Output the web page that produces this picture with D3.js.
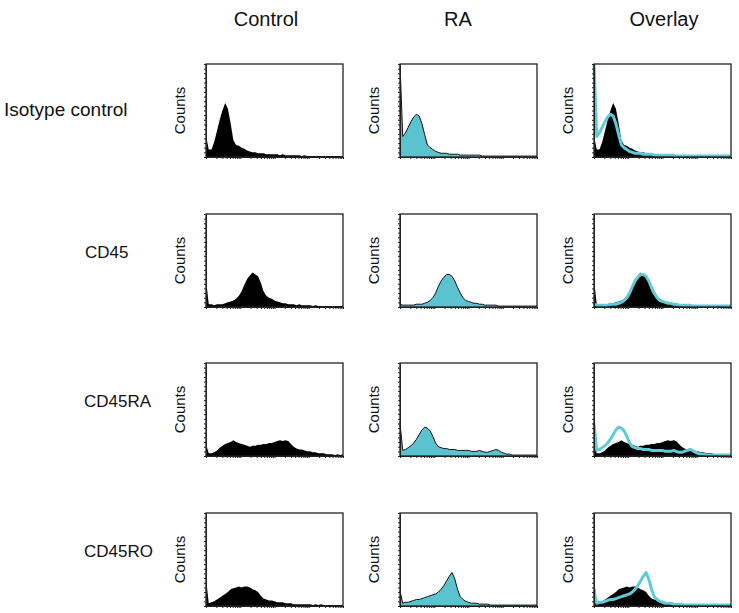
<!DOCTYPE html>
<html>
<head>
<meta charset="utf-8">
<script src="https://cdn.jsdelivr.net/npm/d3@7"></script>
<style>
  body { margin: 0; background: #fff; }
  text { font-family: Arial, "Liberation Sans", sans-serif; fill: #111; }
</style>
</head>
<body>
<div class="figure-container"></div>
<script>
// . . . data (counts as % of panel height, one value per channel bin)

const rowNames = ['Isotype control', 'CD45', 'CD45RA', 'CD45RO'];
const colNames = ['Control', 'RA', 'Overlay'];
const channels = d3.range(0, 101, 2);

const isoControl = [23,8,8,16,28,40,50,58,52,36, 18,13,12,10,9,7,6,5,5,4, 4,4,3,3,3,3,3,2,3,2, 2,2,2,2,2,1,2,1,1,1, 1,1,1,1,1,1,1,1,1,1, 1];
const isoRA = [100,22,26,32,38,43,46,44,36,24, 13,10,8,6,5,4,4,4,3,3, 3,3,2,2,2,2,2,2,2,2, 1,1,1,1,1,1,1,1,1,1, 1,1,1,1,1,1,1,1,1,1, 1];
const cd45Control = [30,3,3,2,3,3,3,4,5,6, 7,9,12,17,24,30,34,37,35,33, 26,17,12,10,9,7,6,5,4,4, 3,3,3,2,3,2,2,2,2,1, 2,1,1,1,1,1,1,1,1,1, 1];
const cd45RA = [3,2,2,2,2,2,3,3,3,4, 5,7,10,15,22,28,32,35,35,33, 28,21,15,10,7,6,5,4,4,3, 3,2,2,2,2,2,1,1,1,1, 1,1,1,1,1,1,1,1,1,1, 1];
const cd45raControl = [13,3,3,4,6,9,11,13,14,15, 17,15,14,13,12,11,10,11,11,12, 12,13,13,14,14,15,16,17,16,17, 16,13,10,8,7,7,6,5,5,4, 4,3,3,3,2,2,2,1,2,1, 2];
const cd45raRA = [35,6,7,9,11,14,18,23,28,31, 30,27,21,14,10,9,8,8,7,7, 7,6,6,6,6,6,5,5,5,6, 5,4,4,5,6,7,6,4,3,2, 2,1,1,1,1,1,1,1,1,1, 1];
const cd45roControl = [30,3,4,5,7,9,11,13,15,18, 19,20,21,20,21,21,20,18,17,15, 11,8,7,6,6,5,4,4,4,3, 3,3,2,2,2,2,2,2,2,1, 2,1,2,1,1,1,1,1,1,1, 1];
const cd45roRA = [16,3,4,4,5,6,7,7,8,9, 10,11,12,13,15,18,22,27,32,36, 29,18,10,7,5,4,3,3,3,2, 2,2,2,1,1,1,1,1,1,1, 1,1,1,1,1,1,1,1,1,1, 1];

const controlSeries = [isoControl, cd45Control, cd45raControl, cd45roControl];
const raSeries = [isoRA, cd45RA, cd45raRA, cd45roRA];

// . . . layout

const width = 739;
const height = 613;
const panelW = 137;
const panelH = 93;
const colLeft = [206, 400, 594];
const rowTop = [64, 214, 363, 513];
const headerX = [266, 458, 664];
const labelX = [4, 85, 84, 84];
const labelDy = [5, -3, -3, -3];
const labelSize = [19, 17, 17, 17];

const cyanFill = '#5bc3d0';
const cyanLine = '#5fcbd8';

const svg = d3.select('.figure-container')
    .append('svg')
    .attr('width', width)
    .attr('height', height);

// scales
const x = d3.scaleLinear().domain([0, 100]).range([0, panelW]);
const xLog = d3.scaleLog().domain([1, 1e4]).range([0, panelW]);
const y = d3.scaleLinear().domain([0, 100]).range([panelH, 0]);

const area = d3.area()
    .x((d, i) => x(channels[i]))
    .y0(panelH)
    .y1(d => y(d));

const line = d3.line()
    .x((d, i) => x(channels[i]))
    .y(d => y(d));

// column headers
svg.selectAll('.col-title')
    .data(colNames)
    .enter().append('text')
    .attr('class', 'col-title')
    .attr('x', (d, i) => headerX[i])
    .attr('y', 26)
    .attr('text-anchor', 'middle')
    .style('font-size', '20px')
    .text(d => d);

// row labels
svg.selectAll('.row-title')
    .data(rowNames)
    .enter().append('text')
    .attr('class', 'row-title')
    .attr('x', (d, i) => labelX[i])
    .attr('y', (d, i) => rowTop[i] + panelH / 2 + labelDy[i])
    .style('font-size', (d, i) => labelSize[i] + 'px')
    .text(d => d);

function drawAxes(g) {
    g.append('g')
        .attr('class', 'y-axis')
        .call(d3.axisLeft(y).tickValues(d3.range(0, 101, 5)).tickSize(2).tickSizeOuter(0).tickFormat(''));

    g.append('g')
        .attr('class', 'x-axis')
        .attr('transform', `translate(0, ${panelH})`)
        .call(d3.axisBottom(xLog).tickSize(2).tickSizeOuter(0).tickFormat(''));

    g.selectAll('.tick line').attr('stroke', '#222');
    g.selectAll('.domain').attr('stroke', '#222');

    g.append('rect')
        .attr('width', panelW)
        .attr('height', panelH)
        .attr('fill', 'none')
        .attr('stroke', '#222')
        .attr('stroke-width', 1.3);

    g.append('text')
        .attr('transform', 'rotate(-90)')
        .attr('x', -panelH / 2)
        .attr('y', -21)
        .attr('text-anchor', 'middle')
        .style('font-size', '15px')
        .text('Counts');
}

rowNames.forEach((name, r) => {
    colNames.forEach((col, c) => {
        const g = svg.append('g')
            .attr('transform', `translate(${colLeft[c]}, ${rowTop[r]})`);

        if (c === 0 || c === 2) {
            g.append('path')
                .datum(controlSeries[r])
                .attr('fill', '#000')
                .attr('d', area);
        }
        if (c === 1) {
            g.append('path')
                .datum(raSeries[r])
                .attr('fill', cyanFill)
                .attr('d', area);
            g.append('path')
                .datum(raSeries[r])
                .attr('fill', 'none')
                .attr('stroke', '#111')
                .attr('stroke-width', 1)
                .attr('d', line);
        }
        if (c === 2) {
            g.append('path')
                .datum(raSeries[r])
                .attr('fill', 'none')
                .attr('stroke', cyanLine)
                .attr('stroke-width', 3)
                .attr('stroke-linejoin', 'round')
                .attr('d', line);
        }

        drawAxes(g);
    });
});
</script>
</body>
</html>
